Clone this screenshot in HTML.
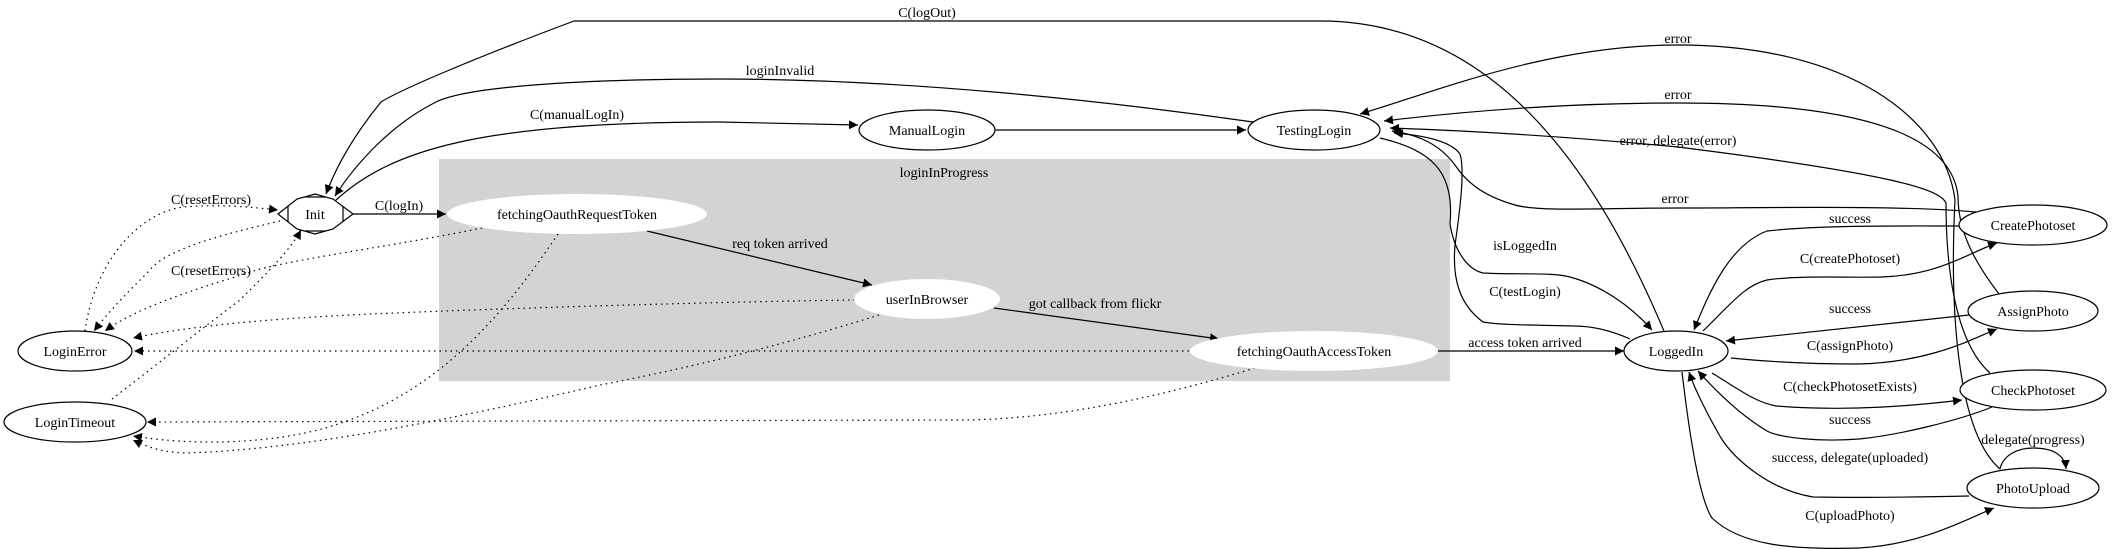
<!DOCTYPE html>
<html><head><meta charset="utf-8"><style>
html,body{margin:0;padding:0;background:#fff}
svg{display:block}
text{font-family:"Liberation Serif",serif;font-size:14px;fill:#000;text-anchor:middle}
.e{fill:none;stroke:#000;stroke-width:1.2}
.d{fill:none;stroke:#000;stroke-width:1.2;stroke-dasharray:1.5,4}
.n{fill:#fff;stroke:#000;stroke-width:1.2}
</style></head><body>
<svg width="2112" height="549" viewBox="0 0 2112 549" xmlns="http://www.w3.org/2000/svg">
<defs>
<marker id="a" viewBox="0 0 10 10" refX="10" refY="5" markerWidth="9" markerHeight="9" markerUnits="userSpaceOnUse" orient="auto"><path d="M0,0 L10,5 L0,10 z" fill="#000"/></marker>
</defs>
<rect x="439" y="159" width="1011" height="222" fill="#d3d3d3"/>
<text x="944" y="177">loginInProgress</text>

<path class="e" d="M1664,331 C1600,180 1500,21 1320,21 L574,21 C470,60 400,90 381,102 C350,140 335,170 326,194" marker-end="url(#a)"/>
<path class="e" d="M1253,122 C1100,100 900,79 720,79 C600,79 470,85 436,102 C390,125 355,165 335,196" marker-end="url(#a)"/>
<path class="e" d="M335,201 C390,150 480,122 720,122 L858,125" marker-end="url(#a)"/>
<path class="e" d="M995,130 L1246,130" marker-end="url(#a)"/>
<path class="e" d="M353,214 L446,214" marker-end="url(#a)"/>
<path class="e" d="M647,231 L872,285" marker-end="url(#a)"/>
<path class="e" d="M994,308 L1219,339" marker-end="url(#a)"/>
<path class="e" d="M1438,351 L1624,351" marker-end="url(#a)"/>

<path class="e" d="M2000,469 C1955,430 1950,300 1955,200 C1945,120 1850,45 1678,45 C1550,45 1440,90 1360,114" marker-end="url(#a)"/>
<path class="e" d="M1999,294 C1973,260 1958,230 1958,196 C1953,150 1900,103 1678,103 C1550,103 1450,113 1384,121" marker-end="url(#a)"/>
<path class="e" d="M1990,373 C1953,340 1946,260 1946,203 C1940,190 1900,175 1678,147 C1550,135 1450,130 1390,128" marker-end="url(#a)"/>
<path class="e" d="M1976,212 C1900,205 1760,208 1678,208 C1600,208 1540,212 1515,205 C1480,195 1465,180 1455,165 C1440,145 1420,135 1392,131" marker-end="url(#a)"/>
<path class="e" d="M1380,138 C1430,150 1455,170 1450,224 C1455,255 1470,270 1483,273 C1520,275 1550,272 1570,277 C1600,285 1630,305 1652,330" marker-end="url(#a)"/>
<path class="e" d="M1630,339 C1610,330 1590,326 1574,326 C1530,325 1500,325 1483,322 C1460,305 1452,280 1455,245 C1460,210 1465,170 1460,154 C1450,140 1420,135 1394,133" marker-end="url(#a)"/>
<path class="e" d="M1959,226 C1900,226 1820,225 1767,231 C1730,245 1710,290 1694,330" marker-end="url(#a)"/>
<path class="e" d="M1703,331 C1730,305 1745,285 1767,280 C1800,275 1850,278 1882,277 C1940,275 1970,252 1997,243" marker-end="url(#a)"/>
<path class="e" d="M1969,315 L1726,341" marker-end="url(#a)"/>
<path class="e" d="M1731,358 C1780,363 1820,364 1859,364 C1930,362 1970,340 1997,329" marker-end="url(#a)"/>
<path class="e" d="M1712,373 C1740,390 1755,402 1776,406 C1850,412 1920,405 1962,400" marker-end="url(#a)"/>
<path class="e" d="M1992,407 C1960,420 1900,435 1859,439 C1820,442 1780,438 1767,431 C1740,415 1715,390 1698,371" marker-end="url(#a)"/>
<path class="e" d="M1969,496 C1920,497 1860,498 1813,497 C1770,490 1735,460 1721,438 C1705,410 1695,390 1689,372" marker-end="url(#a)"/>
<path class="e" d="M1682,372 C1690,440 1700,500 1712,518 C1740,545 1790,550 1859,548 C1920,545 1965,520 1994,508" marker-end="url(#a)"/>
<path class="e" d="M2000,469 C2003,455 2018,448 2033,448 C2053,448 2065,455 2066,469" marker-end="url(#a)"/>

<path class="d" d="M85,331 C95,260 140,212 184,207 C220,204 250,207 278,210" marker-end="url(#a)"/>
<path class="d" d="M280,221 C220,235 165,250 150,270 C130,290 110,310 94,331" marker-end="url(#a)"/>
<path class="d" d="M482,228 C400,245 300,258 257,270 C210,285 140,305 105,331" marker-end="url(#a)"/>
<path class="d" d="M855,300 C700,302 450,310 350,315 C250,320 180,328 133,338" marker-end="url(#a)"/>
<path class="d" d="M1189,351 L134,351" marker-end="url(#a)"/>
<path class="d" d="M112,399 C150,370 200,330 240,300 C270,270 290,250 301,230" marker-end="url(#a)"/>
<path class="d" d="M558,234 C500,320 420,420 275,438 C220,445 170,442 133,436" marker-end="url(#a)"/>
<path class="d" d="M879,315 C800,340 700,366 600,385 C450,420 300,450 184,453 C160,452 145,446 133,440" marker-end="url(#a)"/>
<path class="d" d="M1255,368 C1150,400 1050,420 957,420 L147,422" marker-end="url(#a)"/>

<polygon class="n" points="278,214 297,199 315,194 333,199 353,214 333,229 315,234 297,229"/>
<line class="e" x1="288" y1="206" x2="288" y2="222"/><line class="e" x1="343" y1="206" x2="343" y2="222"/>
<line class="e" x1="305" y1="197" x2="326" y2="197"/><line class="e" x1="305" y1="231" x2="326" y2="231"/>
<text x="315" y="219">Init</text>
<ellipse class="n" cx="75" cy="351" rx="57" ry="20"/><text x="75" y="356">LoginError</text>
<ellipse class="n" cx="75" cy="422" rx="71" ry="20"/><text x="75" y="427">LoginTimeout</text>
<ellipse cx="577" cy="214" rx="130" ry="20" fill="#fff"/><text x="577" y="219">fetchingOauthRequestToken</text>
<ellipse cx="927" cy="299" rx="73" ry="20" fill="#fff"/><text x="927" y="304">userInBrowser</text>
<ellipse cx="1314" cy="351" rx="124" ry="20" fill="#fff"/><text x="1314" y="356">fetchingOauthAccessToken</text>
<ellipse class="n" cx="927" cy="130" rx="68" ry="20"/><text x="927" y="135">ManualLogin</text>
<ellipse class="n" cx="1314" cy="130" rx="66" ry="20"/><text x="1314" y="135">TestingLogin</text>
<ellipse class="n" cx="1676" cy="351" rx="52" ry="20"/><text x="1676" y="356">LoggedIn</text>
<ellipse class="n" cx="2033" cy="225" rx="74" ry="20"/><text x="2033" y="230">CreatePhotoset</text>
<ellipse class="n" cx="2033" cy="311" rx="65" ry="20"/><text x="2033" y="316">AssignPhoto</text>
<ellipse class="n" cx="2033" cy="390" rx="73" ry="20"/><text x="2033" y="395">CheckPhotoset</text>
<ellipse class="n" cx="2033" cy="488" rx="66" ry="20"/><text x="2033" y="493">PhotoUpload</text>

<text x="927" y="17">C(logOut)</text>
<text x="780" y="75">loginInvalid</text>
<text x="577" y="119">C(manualLogIn)</text>
<text x="399" y="210">C(logIn)</text>
<text x="211" y="204">C(resetErrors)</text>
<text x="211" y="275">C(resetErrors)</text>
<text x="780" y="248">req token arrived</text>
<text x="1095" y="308">got callback from flickr</text>
<text x="1525" y="347">access token arrived</text>
<text x="1678" y="43">error</text>
<text x="1678" y="99">error</text>
<text x="1678" y="145">error, delegate(error)</text>
<text x="1675" y="203">error</text>
<text x="1850" y="223">success</text>
<text x="1525" y="250">isLoggedIn</text>
<text x="1850" y="263">C(createPhotoset)</text>
<text x="1525" y="296">C(testLogin)</text>
<text x="1850" y="313">success</text>
<text x="1850" y="350">C(assignPhoto)</text>
<text x="1850" y="391">C(checkPhotosetExists)</text>
<text x="1850" y="424">success</text>
<text x="2033" y="444">delegate(progress)</text>
<text x="1850" y="462">success, delegate(uploaded)</text>
<text x="1850" y="520">C(uploadPhoto)</text>
</svg>
</body></html>
